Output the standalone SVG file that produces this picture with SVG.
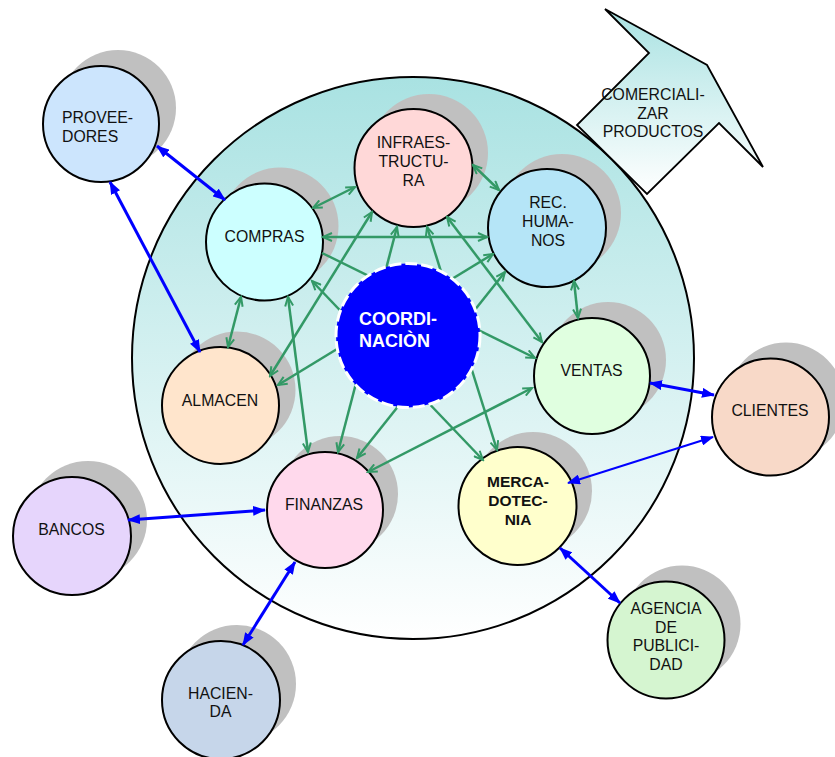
<svg xmlns="http://www.w3.org/2000/svg" width="835" height="757" viewBox="0 0 835 757">
  <defs>
    <linearGradient id="tealFade" x1="0" y1="0" x2="0" y2="1">
      <stop offset="0" stop-color="#a9e2e2"/>
      <stop offset="1" stop-color="#ffffff"/>
    </linearGradient>
    <marker id="blueHead" viewBox="0 0 13 10" refX="12" refY="5" markerWidth="13" markerHeight="10" markerUnits="userSpaceOnUse" orient="auto-start-reverse">
      <path d="M0,0 L13,5 L0,10 z" fill="#0000ff"/>
    </marker>
    <marker id="greenHead" viewBox="0 0 12 10" refX="10" refY="5" markerWidth="12" markerHeight="10" markerUnits="userSpaceOnUse" orient="auto-start-reverse">
      <path d="M1,1 L10,5 L1,9" fill="none" stroke="#339966" stroke-width="2"/>
    </marker>
  </defs>
  <style>
    .shadow { fill: #c0c0c0; }
    .node { stroke: #000; stroke-width: 2; }
    .lbl { font-family: "Liberation Sans", Arial, sans-serif; font-size: 15.8px; fill: #111; text-anchor: middle; }
    .bold { font-weight: bold; font-size: 15.5px; }
    .blue { stroke: #0000ff; stroke-width: 3; fill: none; marker-start: url(#blueHead); marker-end: url(#blueHead); }
    .blue.thin { stroke-width: 2; }
    .green { stroke: #339966; stroke-width: 2.5; fill: none; marker-start: url(#greenHead); marker-end: url(#greenHead); }
    .green.oneway { marker-start: none; }
  </style>

  <!-- enterprise boundary -->
  <circle id="empresa" cx="413" cy="358" r="281" fill="url(#tealFade)" stroke="#000" stroke-width="2"/>

  <!-- output arrow -->
  <g id="comercializar">
    <path d="M605,9 L649,53 L577,125 L647,194 L719,123 L763,167 L707,65 Z" fill="url(#tealFade)" stroke="#000" stroke-width="1.8" stroke-linejoin="miter"/>
    <text class="lbl" font-size="16"><tspan x="653" y="100">COMERCIALI-</tspan><tspan x="653" y="118.5">ZAR</tspan><tspan x="653" y="137">PRODUCTOS</tspan></text>
  </g>

  <!-- departments and external parties -->
  <g id="proveedores">
    <circle class="shadow" cx="118" cy="108" r="58"/>
    <circle class="node" cx="101" cy="124" r="58" fill="#cce5fd"/>
    <text class="lbl" style="text-anchor:start"><tspan x="62" y="123">PROVEE-</tspan><tspan x="62" y="142">DORES</tspan></text>
  </g>
  <g id="compras">
    <circle class="shadow" cx="280" cy="226" r="58.5"/>
    <circle class="node" cx="264.5" cy="242" r="58.5" fill="#ccffff"/>
    <text class="lbl" x="264.5" y="242">COMPRAS</text>
  </g>
  <g id="infraestructura">
    <circle class="shadow" cx="429" cy="153" r="59"/>
    <circle class="node" cx="413.5" cy="168" r="59" fill="#ffd8d8"/>
    <text class="lbl"><tspan x="413.5" y="148">INFRAES-</tspan><tspan x="413.5" y="167">TRUCTU-</tspan><tspan x="413.5" y="186">RA</tspan></text>
  </g>
  <g id="rec-humanos">
    <circle class="shadow" cx="562" cy="213" r="59"/>
    <circle class="node" cx="547" cy="228" r="59" fill="#b5e5f7"/>
    <text class="lbl"><tspan x="548" y="208">REC.</tspan><tspan x="548" y="227">HUMA-</tspan><tspan x="548" y="246">NOS</tspan></text>
  </g>
  <g id="ventas">
    <circle class="shadow" cx="608" cy="360" r="58"/>
    <circle class="node" cx="592" cy="376" r="58" fill="#e0ffe0"/>
    <text class="lbl" x="591.5" y="376">VENTAS</text>
  </g>
  <g id="almacen">
    <circle class="shadow" cx="237" cy="390" r="58.5"/>
    <circle class="node" cx="220.5" cy="405.5" r="58.5" fill="#ffe5cc"/>
    <text class="lbl" x="220" y="406">ALMACEN</text>
  </g>
  <g id="finanzas">
    <circle class="shadow" cx="340" cy="494" r="58"/>
    <circle class="node" cx="325" cy="510" r="58" fill="#ffd9ec"/>
    <text class="lbl" x="324" y="510">FINANZAS</text>
  </g>
  <g id="mercadotecnia">
    <circle class="shadow" cx="533" cy="491" r="59"/>
    <circle class="node" cx="517.5" cy="506" r="59" fill="#ffffcc"/>
    <text class="lbl bold"><tspan x="518" y="487">MERCA-</tspan><tspan x="518" y="506">DOTEC-</tspan><tspan x="518" y="525">NIA</tspan></text>
  </g>
  <g id="agencia-publicidad">
    <circle class="shadow" cx="682" cy="624" r="58.5"/>
    <circle class="node" cx="666" cy="640" r="58.5" fill="#d5f5d0"/>
    <text class="lbl"><tspan x="666" y="614">AGENCIA</tspan><tspan x="666" y="632.5">DE</tspan><tspan x="666" y="651">PUBLICI-</tspan><tspan x="666" y="669.5">DAD</tspan></text>
  </g>
  <g id="clientes">
    <circle class="shadow" cx="786" cy="401" r="58.5"/>
    <circle class="node" cx="770.5" cy="417" r="58.5" fill="#f8d9c8"/>
    <text class="lbl" x="770" y="416">CLIENTES</text>
  </g>
  <g id="bancos">
    <circle class="shadow" cx="88" cy="520" r="59"/>
    <circle class="node" cx="72" cy="536" r="59" fill="#e6d5fc"/>
    <text class="lbl" x="71.5" y="535">BANCOS</text>
  </g>
  <g id="hacienda">
    <circle class="shadow" cx="237" cy="684" r="59"/>
    <circle class="node" cx="221" cy="700" r="59" fill="#c6d6ea"/>
    <text class="lbl"><tspan x="220.5" y="699">HACIEN-</tspan><tspan x="220.5" y="717">DA</tspan></text>
  </g>

  <!-- connectors -->
  <g id="connectors">
    <!-- internal flows -->
    <line class="green" x1="313" y1="208" x2="355" y2="187"/>
    <line class="green" x1="323" y1="237" x2="487" y2="237"/>
    <line class="green oneway" x1="322" y1="253" x2="535" y2="358"/>
    <line class="green" x1="312" y1="281" x2="483" y2="460"/>
    <line class="green" x1="241" y1="297" x2="228" y2="347"/>
    <line class="green" x1="288" y1="297" x2="308" y2="452"/>
    <line class="green" x1="372" y1="212" x2="270" y2="376"/>
    <line class="green" x1="397" y1="227" x2="338" y2="452"/>
    <line class="green" x1="473" y1="165" x2="499" y2="190"/>
    <line class="green" x1="447" y1="217" x2="542" y2="342"/>
    <line class="green" x1="427" y1="227" x2="497" y2="450"/>
    <line class="green" x1="574" y1="281" x2="578" y2="318"/>
    <line class="green" x1="493" y1="254" x2="278" y2="385"/>
    <line class="green" x1="505" y1="272" x2="357" y2="458"/>
    <line class="green" x1="532" y1="388" x2="368" y2="472"/>
    <!-- external flows -->
    <line class="blue" x1="157" y1="146" x2="225" y2="200"/>
    <line class="blue" x1="110" y1="182" x2="200" y2="352"/>
    <line class="blue" x1="650" y1="383" x2="714" y2="395"/>
    <line class="blue thin" x1="568" y1="483" x2="713" y2="437"/>
    <line class="blue" x1="128" y1="520" x2="265" y2="510"/>
    <line class="blue" x1="295" y1="562" x2="243" y2="645"/>
    <line class="blue" x1="560" y1="548" x2="620" y2="603"/>
  </g>

  <!-- coordination hub -->
  <g id="coordinacion">
    <circle cx="408" cy="335.5" r="72" fill="#0000ff" stroke="#ffffff" stroke-width="3" stroke-dasharray="12 4"/>
    <text class="lbl" style="text-anchor:start;fill:#fff;font-weight:bold;font-size:18px"><tspan x="359" y="325">COORDI-</tspan><tspan x="359" y="347">NACIÒN</tspan></text>
  </g>
</svg>
